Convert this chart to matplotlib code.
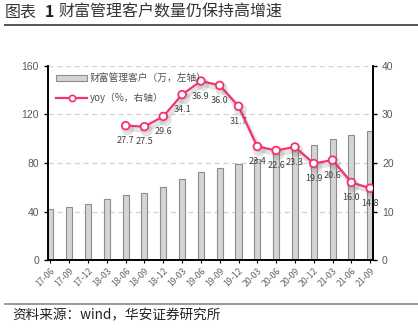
"""Chart: wealth-management customers (bars, left axis) and yoy growth (line, right axis)."""

import matplotlib

matplotlib.use("Agg")
import matplotlib.pyplot as plt
import matplotlib.patheffects as pe
from matplotlib.patches import Patch
from matplotlib.lines import Line2D

plt.rcParams["font.family"] = ["Noto Sans CJK SC", "DejaVu Sans"]

quarters = ["17-06", "17-09", "17-12", "18-03", "18-06", "18-09", "18-12", "19-03", "19-06",
            "19-09", "19-12", "20-03", "20-06", "20-09", "20-12", "21-03", "21-06", "21-09"]
customers = [41.8, 43.7, 46.2, 50.0, 53.3, 55.5, 60.0, 66.8, 72.8,
             75.6, 78.9, 83.5, 88.5, 92.1, 94.5, 99.5, 103.2, 106.6]
yoy_quarters = quarters[4:]
yoy = [27.7, 27.5, 29.6, 34.1, 36.9, 36.0, 31.7, 23.4, 22.6, 23.3, 19.9, 20.6, 16.0, 14.8]

RED = "#f5336b"
GREY_TXT = "#595959"

fig = plt.figure(figsize=(4.18, 3.28), dpi=100)
ax = fig.add_axes([0.1148, 0.2073, 0.7775, 0.5915])
ax2 = ax.twinx()

x = list(range(len(quarters)))
x_yoy = [quarters.index(q) for q in yoy_quarters]

ax.bar(x, customers, width=0.32, color="#d4d4d4", edgecolor="#8c8c8c", linewidth=0.8, zorder=2)
ax.set_ylim(0, 160)
ax.set_yticks([0, 40, 80, 120, 160])
ax.set_xlim(-0.13, 17.15)
ax.set_xticks(x)
ax.set_xticklabels(quarters, rotation=45, ha="right", va="top", rotation_mode="anchor",
                   fontsize=6.3, color="#666666")
ax.grid(axis="y", linestyle=(0, (4, 3)), color="#d0d0d0", linewidth=0.9, zorder=0)
ax.set_axisbelow(True)

line, = ax2.plot(x_yoy, yoy, color=RED, lw=1.6, marker="o", ms=5.5,
                 markerfacecolor="white", markeredgecolor=RED, markeredgewidth=1.3, zorder=4)
line.set_path_effects([pe.SimpleLineShadow(offset=(1.5, -2.5), shadow_color="#666666",
                                           alpha=0.18, linewidth=3.5),
                       pe.Normal()])
ax2.set_ylim(0, 40)
ax2.set_yticks([0, 10, 20, 30, 40])
for xi, v in zip(x_yoy, yoy):
    ax2.annotate(f"{v:.1f}", (xi, v), xytext=(0, -11), textcoords="offset points",
                 ha="center", va="center", fontsize=6.5, color="#404040")

for a in (ax, ax2):
    a.tick_params(axis="y", labelsize=7.5, length=3, width=1, colors="black")
    a.tick_params(axis="y", labelcolor=GREY_TXT)
    a.spines["top"].set_visible(False)
    for s in ("left", "right", "bottom"):
        a.spines[s].set_linewidth(1.2)
ax.tick_params(axis="x", length=2.5, width=0.8, pad=2)
for lab in ax.get_yticklabels() + ax2.get_yticklabels():
    lab.set_family(["Liberation Sans", "DejaVu Sans"])

handles = [Patch(facecolor="#d4d4d4", edgecolor="#8c8c8c", linewidth=0.8),
           Line2D([], [], color=RED, lw=1.6, marker="o", ms=4.5, markerfacecolor="white",
                  markeredgecolor=RED, markeredgewidth=1.2)]
fig.legend(handles, ["财富管理客户（万，左轴）", "yoy（%，右轴）"], loc="upper left",
           bbox_to_anchor=(0.113, 0.803), frameon=False, fontsize=7, handlelength=3.2,
           handleheight=0.5, labelspacing=1.0, handletextpad=0.3, labelcolor="#505050")

fig.text(0.012, 0.962, "图表", fontsize=11.5, color="#333333", va="center")
fig.text(0.106, 0.962, "1", fontsize=11.5, fontweight="bold", color="#222222", va="center")
fig.text(0.139, 0.962, "财富管理客户数量仍保持高增速", fontsize=11.5, color="#333333", va="center")
fig.add_artist(Line2D([0.012, 1.0], [0.924, 0.924], color="#555555", lw=1.4))
fig.add_artist(Line2D([0.012, 1.0], [0.073, 0.073], color="#888888", lw=1.2))
fig.text(0.03, 0.04, "资料来源：wind，华安证券研究所", fontsize=9.8, color="#222222", va="center")

fig.savefig("out.png", dpi=100)
